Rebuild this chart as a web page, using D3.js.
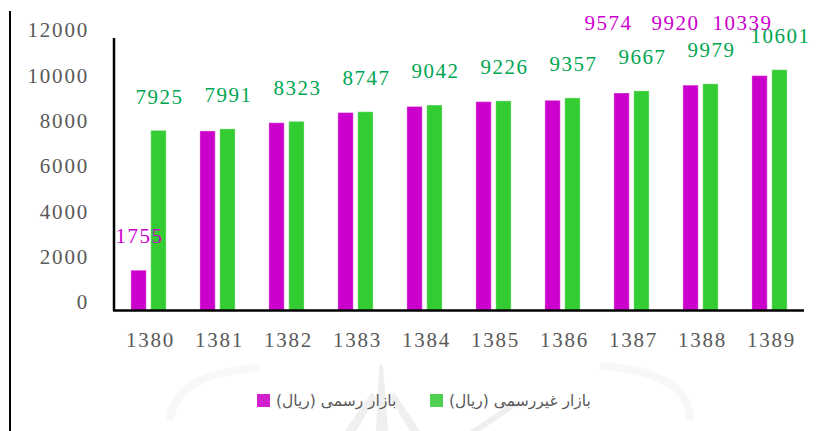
<!DOCTYPE html>
<html>
<head>
  <script src="https://d3js.org/d3.v7.min.js"></script>
  <style>
    body { margin: 0; background: #fff; }
    .tick-label, .year-label { font-family: "Liberation Serif", serif; font-size: 21px; fill: #595959; letter-spacing: 1.8px; }
    .val-label { font-family: "Liberation Serif", serif; font-size: 21px; letter-spacing: 1.5px; }
    .legend-text { font-family: "DejaVu Sans", sans-serif; font-size: 15.5px; fill: #595959; }
  </style>
</head>
<body>
  <div id="chart"></div>
  <script>
    var years = ["1380", "1381", "1382", "1383", "1384", "1385", "1386", "1387", "1388", "1389"];
    var official = [1755, 7900, 8260, 8710, 8980, 9190, 9250, 9574, 9920, 10339];
    var unofficial = [7925, 7991, 8323, 8747, 9042, 9226, 9357, 9667, 9979, 10601];
    var yTicks = [0, 2000, 4000, 6000, 8000, 10000, 12000];
    var seriesNames = ["بازار رسمی (ریال)", "بازار غیررسمی (ریال)"];
    // which official labels are shown (the rest were hidden in the original)
    var officialLabelShown = [true, false, false, false, false, false, false, true, true, true];

    var w = 818, h = 431;
    var colors = ["#CC00CC", "#33CC33"];
    var textColors = ["#CC00CC", "#00A651"];

    var svg = d3.select("#chart").append("svg").attr("width", w).attr("height", h);

    // faint watermark behind the legend
    var wm = svg.append("g").attr("fill", "#efefef");
    wm.append("path").attr("d", "M376,431 L379,365 L383,365 L388,431 Z");
    wm.append("path").attr("d", "M345,431 L372,392 L376,398 L356,431 Z");
    wm.append("path").attr("d", "M410,431 L390,398 L394,392 L420,431 Z");
    wm.append("path").attr("d", "M470,431 L515,400 L520,404 L480,431 Z");
    wm.append("path").attr("d", "M170,420 Q175,372 260,368").attr("fill", "none").attr("stroke", "#f8f8f8").attr("stroke-width", 8);
    wm.append("path").attr("d", "M690,420 Q690,372 600,366").attr("fill", "none").attr("stroke", "#f8f8f8").attr("stroke-width", 8);

    var x0 = d3.scaleBand().domain(years).range([114, 804]).padding(0);
    var x1 = d3.scaleBand().domain([0, 1])
      .range([x0.bandwidth() / 2 - 17.6, x0.bandwidth() / 2 + 17.6]).paddingInner(0.23);
    var y = d3.scaleLinear().domain([0, 12000]).range([310, 38]);

    var data = years.map((yr, i) => ({ year: yr, vals: [official[i], unofficial[i]], i: i }));

    // outer left frame line
    svg.append("line").attr("x1", 10).attr("x2", 10).attr("y1", 11).attr("y2", h)
      .attr("stroke", "#000").attr("stroke-width", 2);

    // y tick labels, shifted up as in the original
    svg.append("g").selectAll("text").data(yTicks).enter().append("text")
      .attr("class", "tick-label")
      .attr("x", 89)
      .attr("y", d => y(d) - 8)
      .attr("dy", "0.35em")
      .attr("text-anchor", "end")
      .text(d => d);

    // bars
    var groups = svg.append("g").selectAll("g").data(data).enter().append("g")
      .attr("transform", d => `translate(${x0(d.year)},0)`);

    groups.selectAll("rect").data(d => d.vals.map((v, k) => ({ v: v, k: k, i: d.i }))).enter().append("rect")
      .attr("x", d => x1(d.k))
      .attr("width", x1.bandwidth())
      .attr("y", d => y(d.v))
      .attr("height", d => y(0) - y(d.v))
      .attr("fill", d => colors[d.k])
      .attr("stroke", "#fff").attr("stroke-opacity", 0.35).attr("stroke-width", 1);

    // axes lines
    svg.append("line").attr("x1", 114).attr("x2", 114).attr("y1", 38).attr("y2", 311)
      .attr("stroke", "#000").attr("stroke-width", 2.5);
    svg.append("line").attr("x1", 113).attr("x2", 804).attr("y1", 310.5).attr("y2", 310.5)
      .attr("stroke", "#000").attr("stroke-width", 2.5);

    // year labels
    svg.append("g").selectAll("text").data(years).enter().append("text")
      .attr("class", "year-label")
      .attr("x", d => x0(d) + x0.bandwidth() / 2 + 2)
      .attr("y", 340)
      .attr("dy", "0.35em")
      .attr("text-anchor", "middle")
      .text(d => d);

    // unofficial value labels
    svg.append("g").selectAll("text").data(data).enter().append("text")
      .attr("class", "val-label")
      .attr("fill", textColors[1])
      .attr("x", d => x0(d.year) + x1(1) + x1.bandwidth() / 2 + 1)
      .attr("y", d => y(d.vals[1]) - 34)
      .attr("dy", "0.35em")
      .attr("text-anchor", "middle")
      .text(d => d.vals[1]);

    // official value labels: first one above its bar, the last three moved into a row at the top
    svg.append("g").selectAll("text").data(data.filter(d => officialLabelShown[d.i])).enter().append("text")
      .attr("class", "val-label")
      .attr("fill", textColors[0])
      .attr("x", d => {
        var cx = x0(d.year) + x1(0) + x1.bandwidth() / 2;
        return d.i === 0 ? cx + 1 : cx - 13 - (d.i - 7) * 2;
      })
      .attr("y", d => d.i === 0 ? y(d.vals[0]) - 35 : y(12000) - 15)
      .attr("dy", "0.35em")
      .attr("text-anchor", "middle")
      .text(d => d.vals[0]);

    // legend
    var legendX = [257, 430];
    var lg = svg.append("g").selectAll("g").data(seriesNames).enter().append("g")
      .attr("transform", (d, k) => `translate(${legendX[k]},394)`);
    lg.append("rect").attr("width", 13).attr("height", 13)
      .attr("fill", (d, k) => k === 0 ? "#D020D0" : "#50D050");
    lg.append("text").attr("class", "legend-text")
      .attr("x", 19).attr("y", 7).attr("dy", "0.35em")
      .attr("text-anchor", "end")
      .attr("direction", "rtl")
      .text(d => d);
  </script>
</body>
</html>
